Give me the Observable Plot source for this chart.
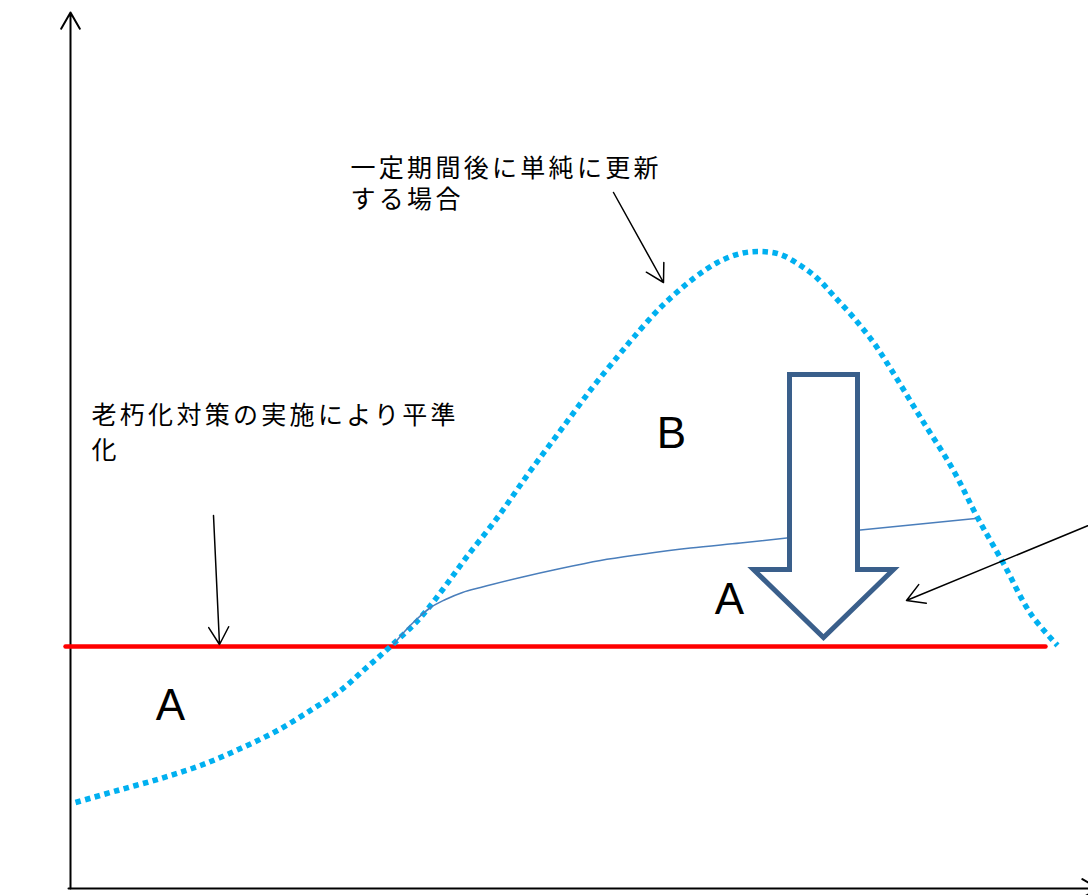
<!DOCTYPE html>
<html><head><meta charset="utf-8">
<script src="https://cdn.jsdelivr.net/npm/d3@7"></script>
<script src="https://cdn.jsdelivr.net/npm/@observablehq/plot@0.6"></script>
<style>html,body{margin:0;padding:0;background:#fff;overflow:hidden}svg{display:block;overflow:hidden}</style>
</head><body><div id="chart"></div>
<script>
// Units: x = time from origin, y = cost above baseline (schematic)
const simpleRenewal = [
  [5,86],[47,98],[90,110],[130,123],[170,140],[207,158],[243,180],[270,198],[295,220],[320,242],
  [350,271],[373,300],[395,330],[427,371],[458,415],[490,458],[522,501],[548,533],[563,551],[590,581],
  [623,610],[647,626],[670,635],[690,637],[710,634],[730,623],[747,610],[763,593],[783,571],[803,546],
  [820,520],[850,471],[883,418],[907,371],[933,325],[960,275],[987,243]
].map(([x,y]) => ({x,y}));
const withCountermeasure = [
  [323,244],[335,258],[347,270],[360,281],[375,289],[392,296],[410,301],[450,311],[490,320],
  [530,328],[570,334],[620,340.5],[670,345.5],[717,350.5],[790,358.5],[850,364.5],[905,370]
].map(([x,y]) => ({x,y}));
const levelled = [{x:-5,y:242},{x:975,y:242}];
const reductionArrow = [
  [753,514],[787,514],[787,319],[823,319],[753,251],[683,319],[719,319],[719,514],[753,514]
].map(([x,y]) => ({x,y}));
const reductionArrowFill = [
  [683,319,319],[719,319,284],[719,514,284],[753,514,251],[787,514,284],[787,319,284],[823,319,319]
].map(([x,y1,y2]) => ({x,y1,y2}));
const annotationArrows = [
  {x1:543,y1:696,x2:593,y2:606},
  {x1:143,y1:373,x2:149,y2:244},
  {x1:1030,y1:368,x2:836,y2:288}
];
const axisArrows = [
  {x1:0,y1:0,x2:0,y2:876},
  {x1:-2,y1:0,x2:1028,y2:0}
];
const textLabels = [
  {text:"一定期間後に単純に更新\nする場合", x:280, y:734, lh:1.24},
  {text:"老朽化対策の実施により平準\n化", x:21, y:489.4, lh:1.4}
];
const areaLabels = [
  {text:"A", x:100, y:183},
  {text:"A", x:659, y:289},
  {text:"B", x:601, y:455}
];

const svg = Plot.plot({
  width: 1088, height: 895,
  marginTop: 0, marginRight: 0, marginBottom: 0, marginLeft: 0,
  x: {domain: [-70, 1018], range: [0, 1088], axis: null},
  y: {domain: [-7, 888], range: [895, 0], axis: null},
  marks: [
    Plot.arrow(axisArrows, {x1:"x1", y1:"y1", x2:"x2", y2:"y2", stroke:"black", strokeWidth:2, headLength:14, headAngle:60}),
    Plot.line(levelled, {x:"x", y:"y", stroke:"#ff0000", strokeWidth:4.5}),
    Plot.line(simpleRenewal, {x:"x", y:"y", stroke:"#00b0f0", strokeWidth:5.5, strokeDasharray:"5.5 4.5", strokeLinecap:"butt", curve:"catmull-rom"}),
    Plot.line(withCountermeasure, {x:"x", y:"y", stroke:"#4a7ebb", strokeWidth:1.6, curve:"monotone-x"}),
    Plot.areaY(reductionArrowFill, {x:"x", y1:"y1", y2:"y2", fill:"white", curve:"linear"}),
    Plot.line(reductionArrow, {x:"x", y:"y", stroke:"#3a5f8b", strokeWidth:5, strokeLinejoin:"miter", strokeMiterlimit:10, curve:"linear"}),
    Plot.arrow(annotationArrows, {x1:"x1", y1:"y1", x2:"x2", y2:"y2", stroke:"black", strokeWidth:1.5, headLength:20, headAngle:60}),
    Plot.text([textLabels[0]], {x:"x", y:"y", text:"text", textAnchor:"start", lineAnchor:"top", lineHeight:textLabels[0].lh, fontSize:25, fontFamily:"Noto Sans CJK JP", fill:"black"}),
    Plot.text([textLabels[1]], {x:"x", y:"y", text:"text", textAnchor:"start", lineAnchor:"top", lineHeight:textLabels[1].lh, fontSize:25, fontFamily:"Noto Sans CJK JP", fill:"black"}),
    Plot.text(areaLabels, {x:"x", y:"y", text:"text", textAnchor:"middle", lineAnchor:"middle", fontSize:44, fontFamily:"Liberation Sans", fill:"black"})
  ]
});
d3.select(svg).selectAll("text").filter(function(){ return /[^\x00-\x7F]/.test(this.textContent); }).attr("letter-spacing", 3.3);
document.getElementById("chart").appendChild(svg);
</script>
</body></html>
